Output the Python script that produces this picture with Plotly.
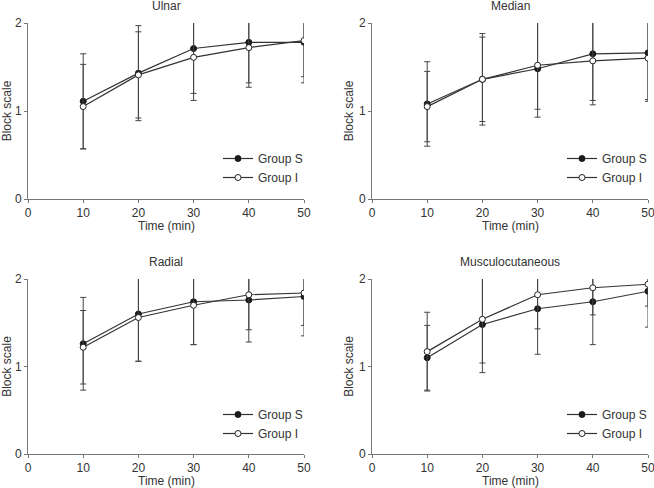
import plotly.graph_objects as go

time = [10, 20, 30, 40, 50]

ulnar_s = [1.11, 1.43, 1.71, 1.78, 1.78]
ulnar_s_sd = [0.54, 0.54, 0.51, 0.46, 0.39]
ulnar_i = [1.05, 1.41, 1.61, 1.72, 1.80]
ulnar_i_sd = [0.48, 0.49, 0.49, 0.45, 0.48]

median_s = [1.08, 1.36, 1.48, 1.65, 1.66]
median_s_sd = [0.48, 0.52, 0.55, 0.53, 0.53]
median_i = [1.05, 1.36, 1.52, 1.57, 1.60]
median_i_sd = [0.40, 0.48, 0.50, 0.50, 0.49]

radial_s = [1.26, 1.60, 1.74, 1.76, 1.80]
radial_s_sd = [0.53, 0.54, 0.49, 0.34, 0.45]
radial_i = [1.22, 1.56, 1.70, 1.82, 1.84]
radial_i_sd = [0.42, 0.50, 0.45, 0.54, 0.37]

musc_s = [1.10, 1.48, 1.66, 1.74, 1.86]
musc_s_sd = [0.37, 0.55, 0.52, 0.49, 0.41]
musc_i = [1.17, 1.54, 1.82, 1.90, 1.94]
musc_i_sd = [0.45, 0.50, 0.39, 0.31, 0.25]

panels = [
    ('Ulnar', ulnar_s, ulnar_s_sd, ulnar_i, ulnar_i_sd),
    ('Median', median_s, median_s_sd, median_i, median_i_sd),
    ('Radial', radial_s, radial_s_sd, radial_i, radial_i_sd),
    ('Musculocutaneous', musc_s, musc_s_sd, musc_i, musc_i_sd),
]

W, H = 654, 488
x_doms = [[28 / W, 304 / W], [372 / W, 648 / W]]
y_doms = [[(H - 199) / H, (H - 23) / H], [(H - 454) / H, (H - 279) / H]]
legend_x = [218 / W, 562 / W]
legend_y = [(H - 168) / H, (H - 424) / H]

font = dict(family='Liberation Sans, Arial, sans-serif', size=12, color='#333')
line_col = '#333'
axis_col = '#777'

fig = go.Figure()
layout = dict(
    width=W, height=H,
    margin=dict(l=0, r=0, t=0, b=0),
    template='none',
    paper_bgcolor='white', plot_bgcolor='white',
    font=font,
    annotations=[],
)

for k, (name, s, s_sd, i, i_sd) in enumerate(panels):
    row, col = divmod(k, 2)
    n = k + 1
    xa = 'x' if n == 1 else f'x{n}'
    ya = 'y' if n == 1 else f'y{n}'
    leg = 'legend' if n == 1 else f'legend{n}'

    fig.add_trace(go.Scatter(
        x=time, y=s, name='Group S', mode='lines+markers',
        xaxis=xa, yaxis=ya, legend=leg,
        line=dict(color=line_col, width=1.2),
        marker=dict(symbol='circle', size=6, color='#1a1a1a',
                    line=dict(color='#1a1a1a', width=1)),
        error_y=dict(type='data', array=s_sd, visible=True,
                     color='#444', thickness=1, width=3),
    ))
    fig.add_trace(go.Scatter(
        x=time, y=i, name='Group I', mode='lines+markers',
        xaxis=xa, yaxis=ya, legend=leg,
        line=dict(color=line_col, width=1.2),
        marker=dict(symbol='circle', size=6, color='white',
                    line=dict(color='#222', width=1)),
        error_y=dict(type='data', array=i_sd, visible=True,
                     color='#444', thickness=1, width=3),
    ))

    axis_common = dict(
        showgrid=False, zeroline=False, showline=True,
        linecolor=axis_col, linewidth=1,
        ticks='outside', ticklen=3, tickcolor=axis_col, tickwidth=1,
        tickfont=font, automargin=False, ticklabeloverflow='allow',
    )
    layout['xaxis' if n == 1 else f'xaxis{n}'] = dict(
        axis_common, domain=x_doms[col], anchor=ya,
        range=[0, 50], tickvals=[0, 10, 20, 30, 40, 50],
    )
    layout['yaxis' if n == 1 else f'yaxis{n}'] = dict(
        axis_common, domain=y_doms[row], anchor=xa,
        range=[0, 2], tickvals=[0, 1, 2],
        title=dict(text='Block scale', font=font, standoff=2),
    )
    layout[leg] = dict(
        x=legend_x[col], y=legend_y[row], xanchor='left', yanchor='middle',
        xref='paper', yref='paper', bgcolor='rgba(0,0,0,0)',
        font=font, borderwidth=0,
    )
    layout['annotations'].append(dict(
        text=name, xref='paper', yref='paper',
        x=sum(x_doms[col]) / 2, y=y_doms[row][1],
        xanchor='center', yanchor='middle', yshift=17,
        showarrow=False, font=font,
    ))
    layout['annotations'].append(dict(
        text='Time (min)', xref='paper', yref='paper',
        x=sum(x_doms[col]) / 2, y=y_doms[row][0],
        xanchor='center', yanchor='middle', yshift=-27,
        showarrow=False, font=font,
    ))

fig.update_layout(**layout)
fig.write_html("out.html", config={'displayModeBar': False},
               post_script="document.body.style.margin='0px';")
